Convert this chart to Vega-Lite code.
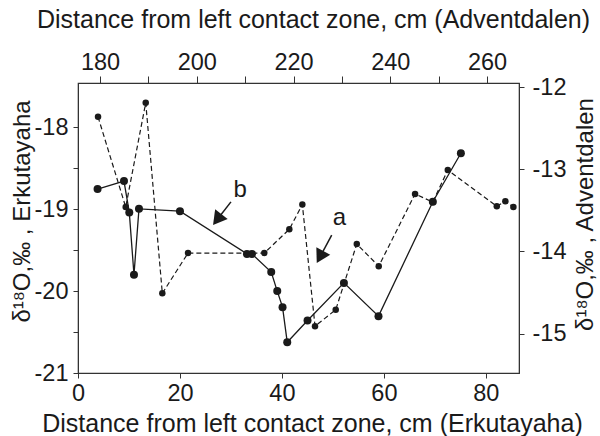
{
  "$schema": "https://vega.github.io/schema/vega-lite/v6.json",
  "width": 441,
  "height": 290,
  "autosize": {"type": "none"},
  "padding": {"left": 78, "top": 83, "right": 81, "bottom": 63},
  "background": "white",
  "config": {
    "font": "Liberation Sans",
    "view": {"stroke": "#333", "strokeWidth": 1.2},
    "axis": {
      "labelFont": "Liberation Sans",
      "titleFont": "Liberation Sans",
      "labelFontSize": 23.5,
      "titleFontSize": 25,
      "titleFontWeight": "normal",
      "labelColor": "#1a1a1a",
      "titleColor": "#1a1a1a",
      "domainColor": "#333",
      "tickColor": "#333",
      "grid": false,
      "tickSize": 5,
      "labelFlush": false,
      "labelOverlap": false
    }
  },
  "layer": [
    {
      "encoding": {
        "x": {
          "field": "distance",
          "type": "quantitative",
          "scale": {"domain": [0, 86.5], "nice": false, "zero": false},
          "axis": {
            "orient": "bottom",
            "values": [0, 20, 40, 60, 80],
            "title": "Distance from left contact zone, cm (Erkutayaha)",
            "labelPadding": 3,
            "titlePadding": 7,
            "titleX": 234
          }
        },
        "y": {
          "field": "d18O",
          "type": "quantitative",
          "scale": {"domain": [-21.0, -17.46], "nice": false, "zero": false},
          "axis": {
            "orient": "left",
            "values": [-21, -20.5, -20, -19.5, -19, -18.5, -18],
            "labelExpr": "datum.value % 1 === 0 ? '-' + abs(datum.value) : ''",
            "title": "δ¹⁸O,‰ , Erkutayaha",
            "titleFontSize": 24,
            "labelPadding": 5,
            "titlePadding": 0,
            "titleY": 128
          }
        }
      },
      "layer": [
        {
          "data": {"values": [
            {"distance": 3.84, "d18O": -18.755},
            {"distance": 9.02, "d18O": -18.657},
            {"distance": 10.06, "d18O": -19.04},
            {"distance": 10.98, "d18O": -19.80},
            {"distance": 11.96, "d18O": -18.996},
            {"distance": 20.0, "d18O": -19.025},
            {"distance": 33.14, "d18O": -19.546},
            {"distance": 34.12, "d18O": -19.546},
            {"distance": 37.9, "d18O": -19.767},
            {"distance": 39.08, "d18O": -20.0},
            {"distance": 40.12, "d18O": -20.196},
            {"distance": 41.04, "d18O": -20.624},
            {"distance": 45.02, "d18O": -20.359},
            {"distance": 52.16, "d18O": -19.90},
            {"distance": 58.94, "d18O": -20.306},
            {"distance": 69.6, "d18O": -18.91},
            {"distance": 75.1, "d18O": -18.318}
          ]},
          "layer": [
            {"mark": {"type": "line", "color": "#1a1a1a", "strokeWidth": 1.3}},
            {"mark": {"type": "point", "filled": true, "color": "#1a1a1a", "size": 64, "opacity": 1}}
          ]
        },
        {
          "data": {"values": [
            {"distance": 31.82, "d18O": -18.767, "label": "b"},
            {"distance": 51.29, "d18O": -19.114, "label": "a"}
          ]},
          "mark": {"type": "text", "fontSize": 24, "color": "#1a1a1a", "align": "center", "baseline": "middle", "font": "Liberation Sans"},
          "encoding": {"text": {"field": "label"}}
        },
        {
          "data": {"values": [
            {"distance": 30.0, "d18O": -18.911, "distance2": 27.31, "d18O2": -19.127},
            {"distance": 49.76, "d18O": -19.318, "distance2": 47.47, "d18O2": -19.583}
          ]},
          "mark": {"type": "rule", "color": "#1a1a1a", "strokeWidth": 1.5},
          "encoding": {"x2": {"field": "distance2"}, "y2": {"field": "d18O2"}}
        },
        {
          "data": {"values": [{"distance": 27.31, "d18O": -19.127}]},
          "mark": {"type": "point", "shape": "triangle-down", "filled": true, "color": "#1a1a1a", "size": 250, "angle": 37.6, "opacity": 1}
        },
        {
          "data": {"values": [{"distance": 47.47, "d18O": -19.583}]},
          "mark": {"type": "point", "shape": "triangle-down", "filled": true, "color": "#1a1a1a", "size": 250, "angle": 28.5, "opacity": 1}
        }
      ]
    },
    {
      "data": {"values": [
        {"distance": 179.59, "d18O": -12.362},
        {"distance": 185.31, "d18O": -13.46},
        {"distance": 189.45, "d18O": -12.19},
        {"distance": 192.88, "d18O": -14.51},
        {"distance": 198.19, "d18O": -14.02},
        {"distance": 213.96, "d18O": -14.02},
        {"distance": 219.13, "d18O": -13.73},
        {"distance": 221.82, "d18O": -13.43},
        {"distance": 224.44, "d18O": -14.91},
        {"distance": 228.72, "d18O": -14.71},
        {"distance": 233.07, "d18O": -13.91},
        {"distance": 237.61, "d18O": -14.18},
        {"distance": 245.12, "d18O": -13.30},
        {"distance": 248.78, "d18O": -13.40},
        {"distance": 251.88, "d18O": -13.01},
        {"distance": 262.01, "d18O": -13.45},
        {"distance": 263.78, "d18O": -13.39},
        {"distance": 265.44, "d18O": -13.46}
      ]},
      "encoding": {
        "x": {
          "field": "distance",
          "type": "quantitative",
          "scale": {"domain": [175.45, 266.6], "nice": false, "zero": false},
          "axis": {
            "orient": "top",
            "values": [180, 190, 200, 210, 220, 230, 240, 250, 260],
            "labelExpr": "datum.value % 20 === 0 ? datum.label : ''",
            "title": "Distance from left contact zone, cm (Adventdalen)",
            "tickSize": 7,
            "labelPadding": 2,
            "titlePadding": 18,
            "titleX": 235
          }
        },
        "y": {
          "field": "d18O",
          "type": "quantitative",
          "scale": {"domain": [-15.48, -11.95], "nice": false, "zero": false},
          "axis": {
            "orient": "right",
            "values": [-15, -14, -13, -12],
            "labelExpr": "'-' + abs(datum.value)",
            "title": "δ¹⁸O,‰ , Adventdalen",
            "titleFontSize": 24,
            "titleAngle": -90,
            "titleBaseline": "top",
            "labelPadding": 8,
            "titlePadding": 8,
            "titleY": 131
          }
        }
      },
      "layer": [
        {"mark": {"type": "line", "color": "#1a1a1a", "strokeWidth": 1.2, "strokeDash": [5, 3]}},
        {"mark": {"type": "point", "filled": true, "color": "#1a1a1a", "size": 42, "opacity": 1}}
      ]
    }
  ],
  "resolve": {"scale": {"x": "independent", "y": "independent"}}
}
